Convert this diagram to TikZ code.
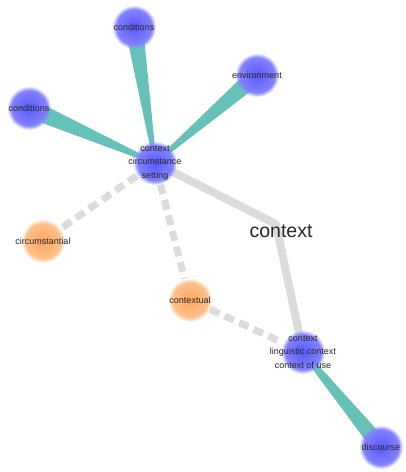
\documentclass[tikz,border=0pt]{standalone}
\usepackage{fontspec}
\setmainfont{Liberation Sans}
\usetikzlibrary{calc,fadings}
\definecolor{blobblue}{RGB}{88,88,250}
\definecolor{blobbluelt}{RGB}{140,140,255}
\definecolor{bloborange}{RGB}{255,165,95}
\definecolor{bloborangelt}{RGB}{255,200,150}
\definecolor{wedgeteal}{RGB}{102,194,184}
\definecolor{edgegray}{RGB}{220,220,220}
\definecolor{txt}{RGB}{40,40,40}
\pgfdeclarelayer{paper}\pgfdeclarelayer{bg}\pgfsetlayers{paper,bg,main}
\tikzset{
  blobbase/.style={circle, minimum size=44pt, inner sep=0pt, shading=radial,
    path fading=circle with fuzzy edge 20 percent},
  bluenode/.style={blobbase, inner color=blobblue, outer color=blobbluelt},
  orangenode/.style={blobbase, inner color=bloborange, outer color=bloborangelt},
  every label/.style={text=txt, font=\fontsize{9}{13.5}\selectfont, align=center, inner sep=0pt},
  wedge/.style={fill=wedgeteal},
  graysolid/.style={draw=edgegray, line width=8pt, line join=round},
  graydash/.style={draw=edgegray, line width=7pt, dash pattern=on 10pt off 6pt},
  biglabel/.style={text=txt, font=\fontsize{19.5}{22}\selectfont, inner sep=0pt}
}
\begin{document}
\begin{tikzpicture}[x=1pt,y=-1pt]
\begin{pgfonlayer}{paper}
\fill[white] (0,0) rectangle (406,472);
\end{pgfonlayer}
\useasboundingbox (0,0) rectangle (406,472);

\node[bluenode, label={center:conditions}] (c1) at (134,27) {};
\node[bluenode, label={center:conditions}] (c2) at (29,108) {};
\node[bluenode, label={center:environment}] (env) at (257,75) {};
\node[bluenode, label={center:{context\\circumstance\\setting}}] (A) at (155,163) {};
\node[orangenode, label={center:circumstantial}] (circ) at (43,241) {};
\node[orangenode, label={center:contextual}] (ctxl) at (190,300) {};
\node[bluenode, label={center:{context\\linguistic context\\context of use}}] (B) at (303,352) {};
\node[bluenode, label={center:discourse}] (disc) at (381,447) {};
\node[biglabel] (lbl) at (281,231) {context};
\coordinate (bend) at (276,224);

\begin{pgfonlayer}{bg}
  \fill[wedge] ($(A)!1.5pt!90:(c1)$) -- ($(A)!1.5pt!-90:(c1)$) -- ($(c1)!9pt!90:(A)$) -- ($(c1)!9pt!-90:(A)$) -- cycle;
  \fill[wedge] ($(A)!1.5pt!90:(c2)$) -- ($(A)!1.5pt!-90:(c2)$) -- ($(c2)!9.5pt!90:(A)$) -- ($(c2)!9.5pt!-90:(A)$) -- cycle;
  \fill[wedge] ($(A)!1.5pt!90:(env)$) -- ($(A)!1.5pt!-90:(env)$) -- ($(env)!9pt!90:(A)$) -- ($(env)!9pt!-90:(A)$) -- cycle;
  \fill[wedge] ($(B)!2.5pt!90:(disc)$) -- ($(B)!2.5pt!-90:(disc)$) -- ($(disc)!8.5pt!90:(B)$) -- ($(disc)!8.5pt!-90:(B)$) -- cycle;
  \draw[graysolid] (A.center) -- (bend) -- (B.center);
  \draw[graydash] (A) -- (circ);
  \draw[graydash] (A) -- (ctxl);
  \draw[graydash] (ctxl) -- (B);
\end{pgfonlayer}
\end{tikzpicture}
\end{document}
